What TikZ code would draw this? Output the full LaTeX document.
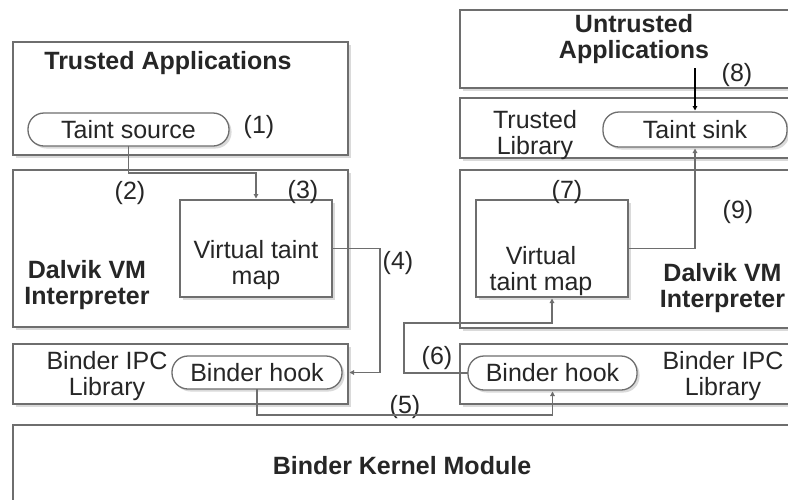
\documentclass[tikz,border=0pt]{standalone}
\usepackage{fontspec}
\setmainfont{Liberation Sans}
\usetikzlibrary{arrows.meta,shadows}
\definecolor{ln}{RGB}{110,110,110}
\definecolor{shd}{RGB}{218,218,218}
\begin{document}
\begin{tikzpicture}[x=1pt,y=-1pt,
  every node/.style={font=\fontsize{25}{26}\selectfont, inner sep=0pt, outer sep=0pt, text=black!85},
  box/.style={draw=ln, line width=1.3pt, fill=white,
    drop shadow={shadow xshift=2.5pt, shadow yshift=-2.5pt, fill=shd, opacity=1}},
  pill/.style={box, rounded corners=16pt},
  lbl/.style={align=center},
  bold/.style={align=center, font=\fontsize{25}{26}\selectfont\bfseries},
  arr/.style={draw=ln, line width=1.3pt, -{Triangle[length=4.5pt,width=4.5pt]}, shorten >=1.5pt},
]
\useasboundingbox (0,0) rectangle (788,499);
\clip (0,0) rectangle (788,499);

% ---- left column ----
\node[box, minimum width=335pt, minimum height=113pt] (ta) at (180.5,98.5) {};
\node[bold] (taT) at (168,63.5) {Trusted Applications};
\node[pill, minimum width=201pt, minimum height=33pt] (tsrc) at (128.5,129.5) {Taint source};
\node (n1) at (259,127.5) {(1)};

\node[box, minimum width=335pt, minimum height=157pt] (dvL) at (180.5,248.5) {};
\node[bold] (dvLT) at (87,285.5) {Dalvik VM\\Interpreter};
\node[box, minimum width=152pt, minimum height=97pt] (vtmL) at (256,248.5) {};
\node[lbl] (vtmLT) at (256,265) {Virtual taint\\map};
\node (n2) at (130,193) {(2)};
\node (n3) at (303,192) {(3)};
\node (n4) at (398,263) {(4)};

\node[box, minimum width=335pt, minimum height=60pt] (ipcL) at (180.5,374) {};
\node[lbl] (ipcLT) at (107,376) {Binder IPC\\Library};
\node[pill, minimum width=170pt, minimum height=33pt] (hookL) at (257,372.5) {Binder hook};

% ---- kernel ----
\node[box, minimum width=800pt, minimum height=100pt] (kern) at (413,475) {};
\node[bold] (kernT) at (402,466) {Binder Kernel Module};

% ---- right column ----
\node[box, minimum width=350pt, minimum height=78pt] (ua) at (635,49) {};
\node[bold] (uaT) at (634,38.6) {Untrusted\\Applications};
\node (n8) at (737,75) {(8)};

\node[box, minimum width=350pt, minimum height=60pt] (tl) at (635,128) {};
\node[lbl] (tlT) at (535,135) {Trusted\\Library};
\node[pill, minimum width=184pt, minimum height=35pt] (sink) at (695,129.5) {Taint sink};

\node[box, minimum width=350pt, minimum height=158pt] (dvR) at (635,249) {};
\node[bold] (dvRT) at (722.5,288) {Dalvik VM\\Interpreter};
\node[box, minimum width=152pt, minimum height=97pt] (vtmR) at (552,248.5) {};
\node[lbl] (vtmRT) at (541,271) {Virtual\\taint map};
\node (n7) at (567,192) {(7)};
\node (n9) at (738,212) {(9)};

\node[box, minimum width=350pt, minimum height=60pt] (ipcR) at (635,374) {};
\node[lbl] (ipcRT) at (723,376) {Binder IPC\\Library};
\node[pill, minimum width=169pt, minimum height=34pt] (hookR) at (552.5,373) {Binder hook};

\node (n5) at (405,407) {(5)};
\node (n6) at (437,358) {(6)};

% ---- connectors ----
\coordinate (s8) at (695,68);
\draw[arr, draw=black] (s8) -- (sink.north);
\draw[arr] (tsrc.south) -- ++(0,27) -| (vtmL.north);
\draw[arr] (vtmL.east) -- ++(48,0) |- (ipcL.east |- hookL.center);
\draw[arr] (hookL.south) -- ++(0,26) -| (hookR.south);
\draw[arr] (hookR.west) -- ++(-64,0) -- ++(0,-50) -| (vtmR.south);
\draw[arr] (vtmR.east) -| (sink.south);
\end{tikzpicture}
\end{document}
